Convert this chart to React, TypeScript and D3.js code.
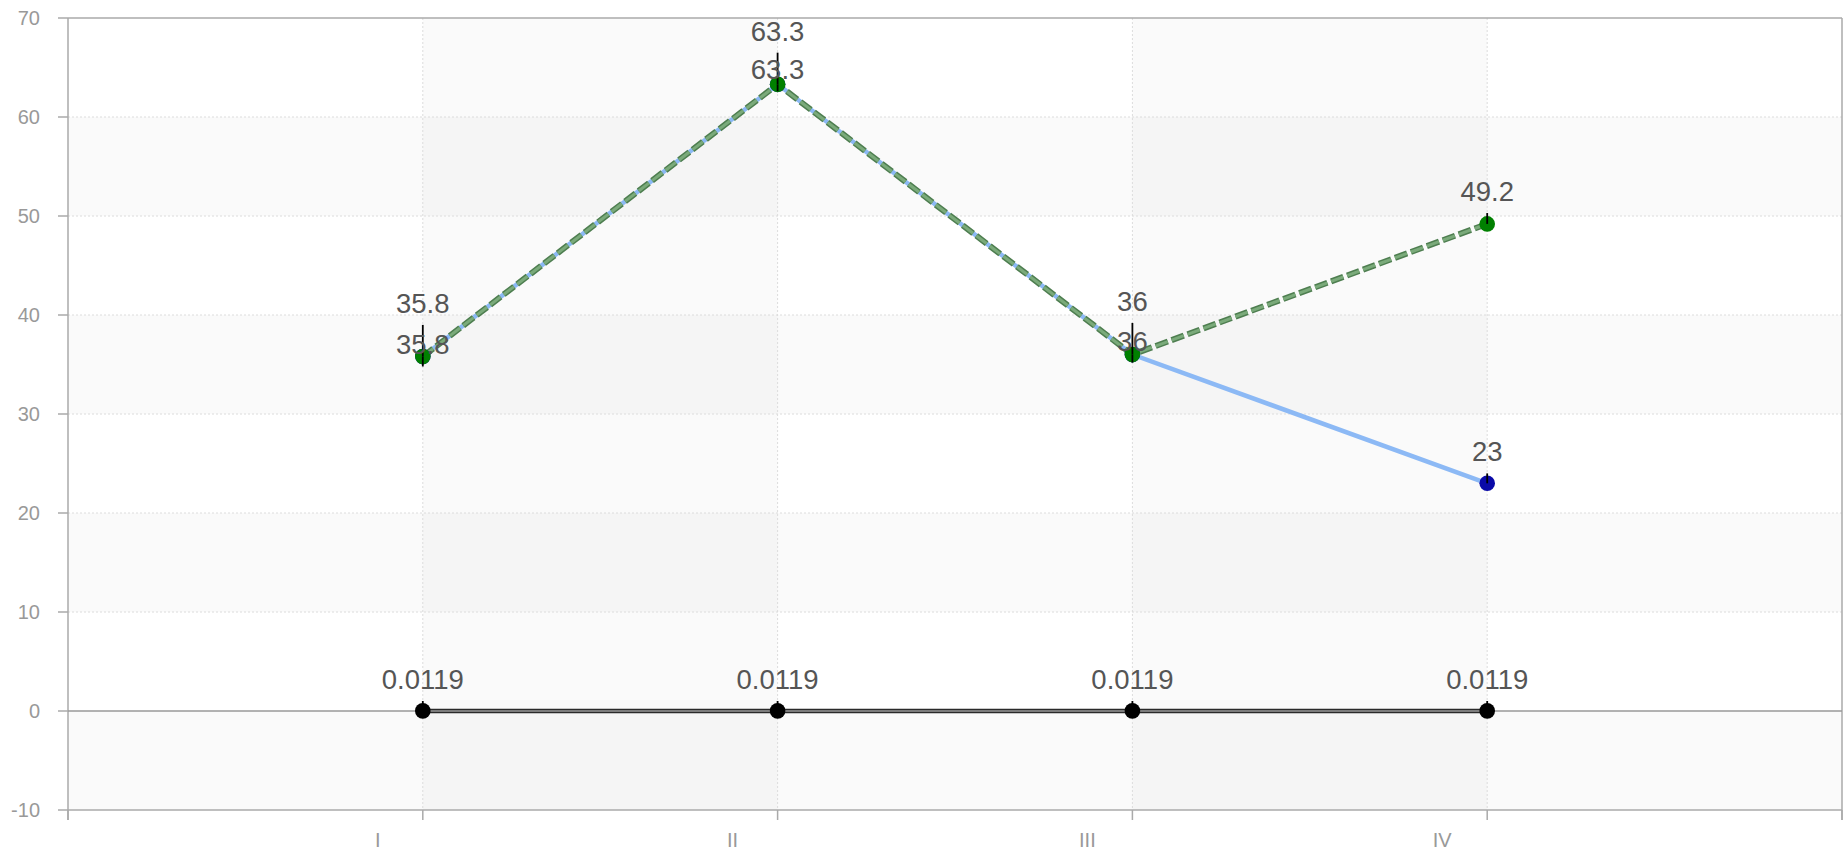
import React from "react";
import * as d3 from "d3";

const categories = ["I", "II", "III", "IV"];
const greenValues = [35.8, 63.3, 36, 49.2];
const blueValues = [35.8, 63.3, 36, 23];
const blackValues = [0.0119, 0.0119, 0.0119, 0.0119];
const greenErr = [3.2, 3.2, 3.2, 1.1];
const blueErr = [-1.0, -0.7, -0.8, 1.0];
const blackErr = [1.0, 1.0, 1.0, 1.0];
const yTicks = [-10, 0, 10, 20, 30, 40, 50, 60, 70];
const xTickSlots = [0, 1, 2, 3, 4, 5];

const W = 1844;
const H = 858;
const FONT = '"Liberation Sans", Arial, Helvetica, sans-serif';

export default function App() {
  const x = d3.scaleLinear().domain([0, 5]).range([68, 1842]);
  const y = d3.scaleLinear().domain([-10, 70]).range([810, 18]);
  const cx = (i: number) => x(i + 1);
  const line = d3
    .line<number>()
    .x((_, i) => cx(i))
    .y((d) => y(d));

  const rowBands = [
    [60, 50],
    [40, 30],
    [20, 10],
    [0, -10],
  ];
  const colBands = [
    [1, 2],
    [3, 4],
  ];

  const series = [
    { values: blackValues, err: blackErr, fill: "#000" },
    { values: blueValues, err: blueErr, fill: "#0a0aa8" },
    { values: greenValues, err: greenErr, fill: "#008000" },
  ];

  const fmt = (v: number) => String(v);

  return (
    <svg
      width={W}
      height={H}
      style={{ position: "fixed", left: 0, top: 0, background: "#fff" }}
      fontFamily={FONT}
    >
      {rowBands.map(([a, b], i) => (
        <rect
          key={"r" + i}
          x={x(0)}
          y={y(a)}
          width={x(5) - x(0)}
          height={y(b) - y(a)}
          fill="rgba(0,0,0,0.02)"
        />
      ))}
      {colBands.map(([a, b], i) => (
        <rect
          key={"c" + i}
          x={x(a)}
          y={y(70)}
          width={x(b) - x(a)}
          height={y(-10) - y(70)}
          fill="rgba(0,0,0,0.02)"
        />
      ))}
      {yTicks
        .filter((t) => t !== -10 && t !== 70 && t !== 0)
        .map((t) => (
          <line
            key={"gy" + t}
            x1={x(0)}
            x2={x(5)}
            y1={y(t)}
            y2={y(t)}
            stroke="#dcdcdc"
            strokeWidth={1}
            strokeDasharray="2,2"
          />
        ))}
      {categories.map((c, i) => (
        <line
          key={"gx" + c}
          x1={cx(i)}
          x2={cx(i)}
          y1={y(70)}
          y2={y(-10)}
          stroke="#dcdcdc"
          strokeWidth={1}
          strokeDasharray="2,2"
        />
      ))}
      <line x1={x(0)} x2={x(5)} y1={y(70)} y2={y(70)} stroke="#aaa" strokeWidth={1.5} />
      <line x1={x(5)} x2={x(5)} y1={y(70)} y2={y(-10) + 10} stroke="#aaa" strokeWidth={1.5} />
      <line x1={x(0)} x2={x(0)} y1={y(70)} y2={y(-10) + 10} stroke="#aaa" strokeWidth={1.5} />
      <line x1={x(0)} x2={x(5)} y1={y(-10)} y2={y(-10)} stroke="#aaa" strokeWidth={1.5} />
      {yTicks.map((t) => (
        <g key={"yt" + t}>
          <line x1={x(0) - 10} x2={x(0)} y1={y(t)} y2={y(t)} stroke="#aaa" strokeWidth={1.5} />
          <text
            x={40}
            y={y(t)}
            textAnchor="end"
            dominantBaseline="central"
            fontSize={20}
            fill="#999"
          >
            {t}
          </text>
        </g>
      ))}
      {xTickSlots.map((s) => (
        <line
          key={"xt" + s}
          x1={x(s)}
          x2={x(s)}
          y1={y(-10)}
          y2={y(-10) + 10}
          stroke="#aaa"
          strokeWidth={1.5}
        />
      ))}
      {categories.map((c, i) => (
        <text
          key={"xl" + c}
          x={cx(i) - 45}
          y={840}
          textAnchor="middle"
          dominantBaseline="central"
          fontSize={20}
          fill="#999"
        >
          {c}
        </text>
      ))}
      <path d={line(blackValues) || ""} fill="none" stroke="#2a2a2a" strokeWidth={4.5} />
      <line x1={x(0)} x2={x(5)} y1={y(0)} y2={y(0)} stroke="#999" strokeWidth={1.5} />
      <path d={line(blueValues) || ""} fill="none" stroke="#8cb9f5" strokeWidth={4.5} />
      <path
        d={line(greenValues) || ""}
        fill="none"
        stroke="#4e7e50"
        strokeWidth={6}
        strokeDasharray="13,4"
      />
      <path
        d={line(greenValues) || ""}
        fill="none"
        stroke="#7aaa7a"
        strokeWidth={3}
        strokeDasharray="13,4"
      />
      {series.map((s, si) =>
        s.values.map((v, i) => (
          <circle key={"p" + si + "-" + i} cx={cx(i)} cy={y(v)} r={7.8} fill={s.fill} />
        ))
      )}
      {series.map((s, si) =>
        s.values.map((v, i) => (
          <line
            key={"e" + si + "-" + i}
            x1={cx(i)}
            x2={cx(i)}
            y1={y(v)}
            y2={y(v + s.err[i])}
            stroke="#000"
            strokeWidth={1.8}
          />
        ))
      )}
      {series.map((s, si) =>
        s.values.map((v, i) => (
          <text
            key={"l" + si + "-" + i}
            x={cx(i)}
            y={y(v + s.err[i]) - 12}
            textAnchor="middle"
            fontSize={27.5}
            fill="#555"
          >
            {fmt(v)}
          </text>
        ))
      )}
    </svg>
  );
}
